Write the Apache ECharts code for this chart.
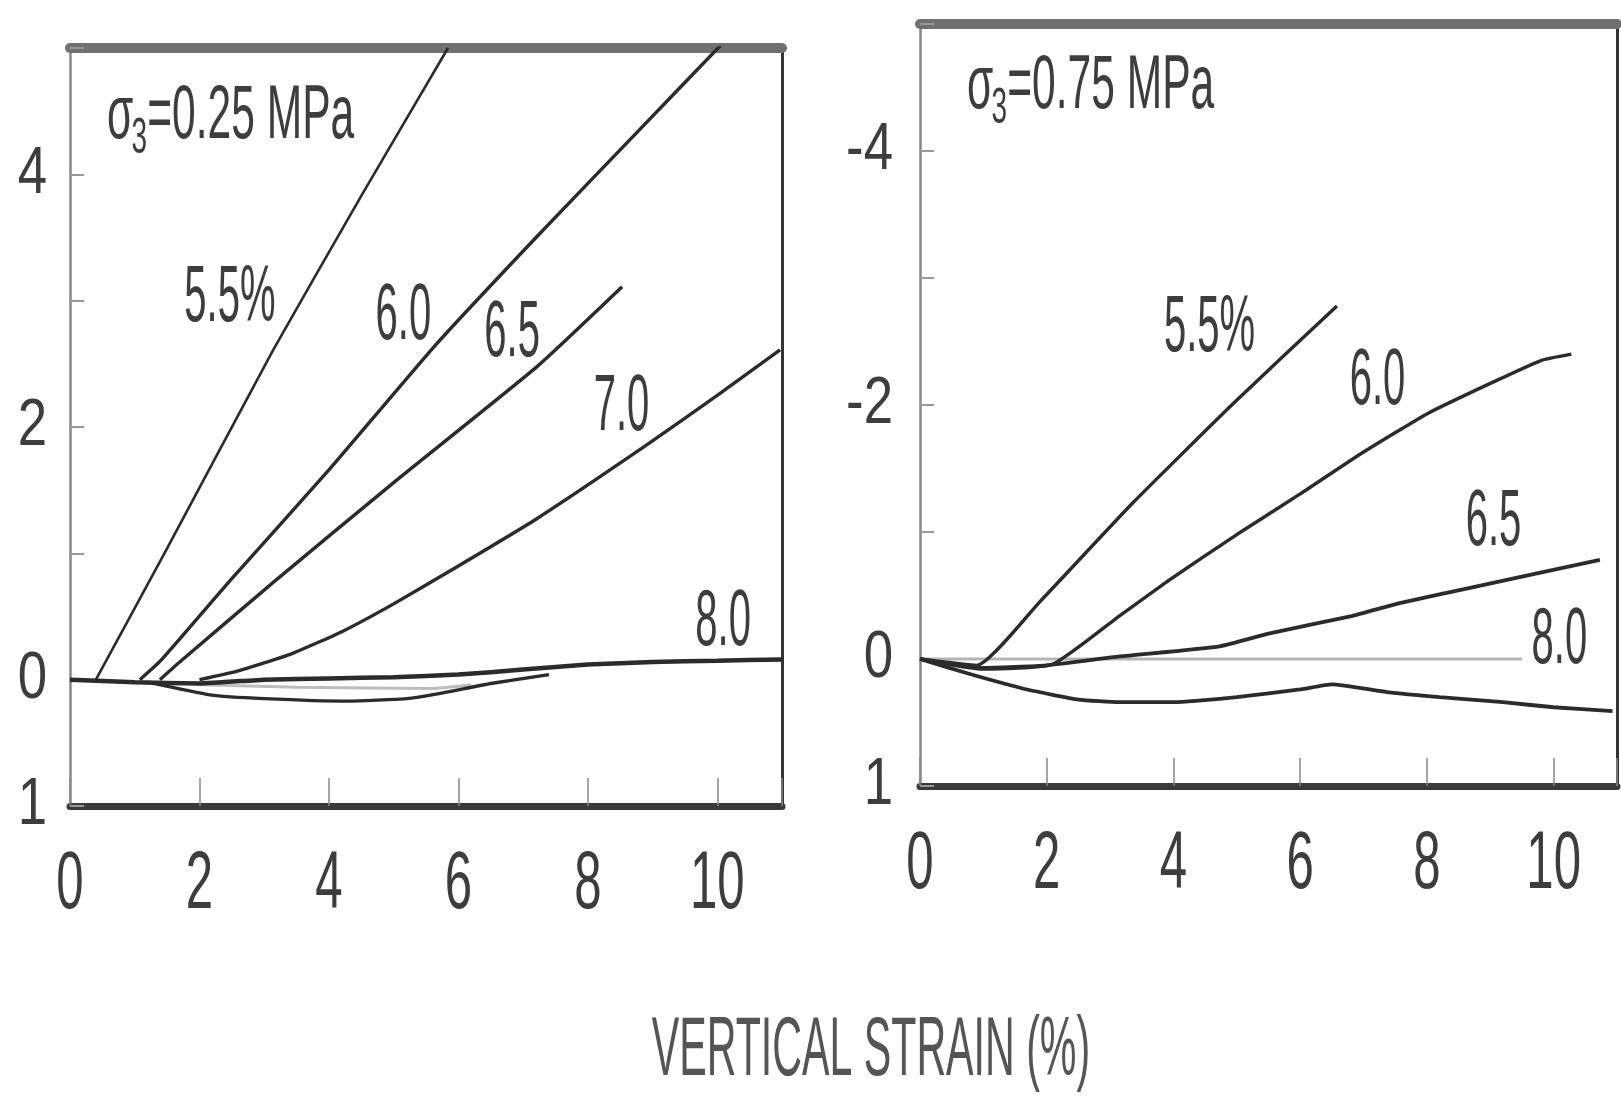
<!DOCTYPE html>
<html>
<head>
<meta charset="utf-8">
<script src="https://cdn.jsdelivr.net/npm/echarts@6/dist/echarts.min.js"></script>
<style>
  html, body { margin: 0; padding: 0; background: #fff; }
  #main { width: 1621px; height: 1102px; }
</style>
</head>
<body>
<div id="main"></div>
<script>
// volumetric strain (%) against vertical strain (%); dilation is negative and plotted upward
const xTicks = [0, 2, 4, 6, 8, 10]
const yTickValues = [-4, -2, 0, 1]
const yLabelsLeft = ['4', '2', '0', '1']      // the scan lost the minus signs on the left panel
const yLabelsRight = ['-4', '-2', '0', '1']

// sigma3 = 0.25 MPa, curves labelled by cement content
const left55 = [[0.4, 0], [1.5, -1.04], [3.14, -2.61], [4.5, -3.83], [5.84, -5.0]]
const left60 = [[1.08, 0], [1.4, -0.15], [2.5, -0.8], [4, -1.66], [5.65, -2.65], [7.2, -3.5], [8.7, -4.3], [10.2, -5.1]]
const left65 = [[1.39, 0], [1.65, -0.12], [3.14, -0.77], [5, -1.56], [7.22, -2.48], [8.53, -3.11]]
const left70 = [[2.0, 0], [2.6, -0.07], [3.4, -0.2], [4.2, -0.38], [5, -0.6], [6, -0.9], [7.2, -1.27], [8.86, -1.84], [10, -2.25], [10.97, -2.61]]
const left80 = [[0, 0], [1, 0.02], [2, 0.03], [3, 0], [4, -0.01], [5, -0.02], [6, -0.04], [7, -0.08], [8, -0.12], [9, -0.14], [10, -0.15], [11, -0.16]]
const leftLow = [[1.2, 0.02], [2.16, 0.12], [3, 0.15], [4.3, 0.17], [5.2, 0.15], [5.7, 0.11], [6.5, 0.03], [7.4, -0.04]]
const leftLowInner = [[2.0, 0.04], [3.5, 0.06], [5.6, 0.07], [6.2, 0.04]]

// sigma3 = 0.75 MPa
const right55 = [[0, 0], [0.9, 0.05], [1.89, -0.45], [3.36, -1.23], [4.94, -2.01], [6.58, -2.78]]
const right60 = [[0, 0], [1, 0.08], [2.1, 0.04], [3.15, -0.34], [3.9, -0.61], [5, -0.98], [6, -1.3], [7, -1.63], [8, -1.93], [9, -2.17], [9.8, -2.35], [10.28, -2.4]]
const right65 = [[0, 0], [1, 0.07], [2, 0.05], [3.15, -0.02], [4.73, -0.1], [5.5, -0.2], [6.83, -0.34], [7.57, -0.44], [8.68, -0.56], [10.73, -0.78]]
const right80 = [[0, 0], [9.5, 0]]
const rightLow = [[0, 0], [0.8, 0.12], [1.69, 0.24], [2.5, 0.32], [3.15, 0.34], [4, 0.34], [5, 0.3], [6, 0.24], [6.5, 0.2], [7.37, 0.26], [8.2, 0.3], [9.2, 0.34], [10, 0.38], [10.93, 0.41]]

const leftNotes = [['5.5%', 2.47, -3.01], ['6.0', 5.15, -2.87], ['6.5', 6.83, -2.74], ['7.0', 8.52, -2.15], ['8.0', 10.09, -0.45]]
const rightNotes = [['5.5%', 4.57, -2.6], ['6.0', 7.22, -2.18], ['6.5', 9.05, -1.07], ['8.0', 10.09, -0.14]]

const plain = "'Liberation Sans', Arial, sans-serif"
const ink = '#2b2b2b'
const textInk = '#3d3d3d'

function bottomX(gridIndex) {
  return {
    type: 'value', gridIndex, min: 0, max: 11, interval: 2, position: 'bottom',
    axisLine: { show: true, onZero: false, lineStyle: { color: '#3a3a3a', width: 7 } },
    axisTick: { show: true, inside: true, length: 28, lineStyle: { color: '#888', width: 1.5 } },
    axisLabel: { show: false },   // drawn below as condensed text, like the scan
    splitLine: { show: false }
  }
}

function topX(gridIndex) {
  return {
    type: 'value', gridIndex, min: 0, max: 11, position: 'top',
    axisLine: { show: true, onZero: false, lineStyle: { color: '#707070', width: 10 } },
    axisTick: { show: false }, axisLabel: { show: false }, splitLine: { show: false }
  }
}

function leftY(gridIndex) {
  return {
    type: 'value', gridIndex, inverse: true, min: -5, max: 1, interval: 1, position: 'left',
    axisLine: { show: true, onZero: false, lineStyle: { color: '#888', width: 2.5 } },
    axisTick: { show: true, inside: true, length: 14, lineStyle: { color: '#999', width: 2 } },
    axisLabel: { show: false },
    splitLine: { show: false }
  }
}

function rightY(gridIndex) {
  return {
    type: 'value', gridIndex, inverse: true, min: -5, max: 1, position: 'right',
    axisLine: { show: true, onZero: false, lineStyle: { color: '#333', width: 3 } },
    axisTick: { show: false }, axisLabel: { show: false }, splitLine: { show: false }
  }
}

function curve(data, axis, width, color) {
  return {
    type: 'line', data, xAxisIndex: axis * 2, yAxisIndex: axis * 2,
    symbol: 'none', smooth: 0.15, silent: true,
    lineStyle: { color: color || ink, width: width || 3.4 }
  }
}

const chart = echarts.init(document.getElementById('main'))

chart.setOption({
  animation: false,
  backgroundColor: '#fff',
  grid: [
    { left: 70, top: 48, width: 712, height: 758 },
    { left: 920, top: 24, width: 697, height: 762 }
  ],
  xAxis: [bottomX(0), topX(0), bottomX(1), topX(1)],
  yAxis: [leftY(0), rightY(0), leftY(1), rightY(1)],
  series: [
    curve(leftLowInner, 0, 3, '#bdbdbd'),
    curve(leftLow, 0, 3.4),
    curve(left80, 0, 4.5),
    curve(left70, 0),
    curve(left65, 0),
    curve(left60, 0),
    curve(left55, 0, 2.6),
    curve(right80, 1, 3, '#b5b5b5'),
    curve(rightLow, 1, 3.8),
    curve(right65, 1, 3.8),
    curve(right60, 1),
    curve(right55, 1)
  ]
})

function px(axis, x, y) {
  return chart.convertToPixel({ xAxisIndex: axis * 2, yAxisIndex: axis * 2 }, [x, y])
}

function label(x, y, text, size, sx, align, fill) {
  return {
    type: 'text', x, y, scaleX: sx, silent: true,
    style: { text, font: size + 'px ' + plain, fill: fill || textInk, align, verticalAlign: 'middle' }
  }
}

function axisLabels(axis, yLabels, gap) {
  const out = []
  xTicks.forEach(v => {
    const p = px(axis, v, 1)
    out.push(label(p[0], p[1] + 79, String(v), 82, 0.6, 'center'))
  })
  yTickValues.forEach((v, i) => {
    const p = px(axis, 0, v)
    out.push(label(p[0] - gap, p[1], yLabels[i], 66, 0.8, 'right'))
  })
  return out
}

function note(axis, [text, x, y]) {
  const p = px(axis, x, y)
  return label(p[0], p[1], text, 80, 0.5, 'center')
}

function sigma(axis, x, y, value) {
  const p = px(axis, x, y)
  return {
    type: 'group', x: p[0], y: p[1], scaleX: 0.56, silent: true,
    children: [
      label(0, 0, 'σ', 76, 1, 'left'),
      label(44, 22, '3', 50, 1, 'left'),
      label(72, 0, '=' + value + ' MPa', 76, 1, 'left')
    ]
  }
}

chart.setOption({
  graphic: [
    ...axisLabels(0, yLabelsLeft, 23),
    ...axisLabels(1, yLabelsRight, 27),
    ...leftNotes.map(n => note(0, n)),
    ...rightNotes.map(n => note(1, n)),
    sigma(0, 0.57, -4.45, '0.25'),
    sigma(1, 0.74, -4.5, '0.75'),
    label(871, 1052, 'VERTICAL STRAIN (%)', 84, 0.49, 'center', '#555')
  ]
})
</script>
</body>
</html>
